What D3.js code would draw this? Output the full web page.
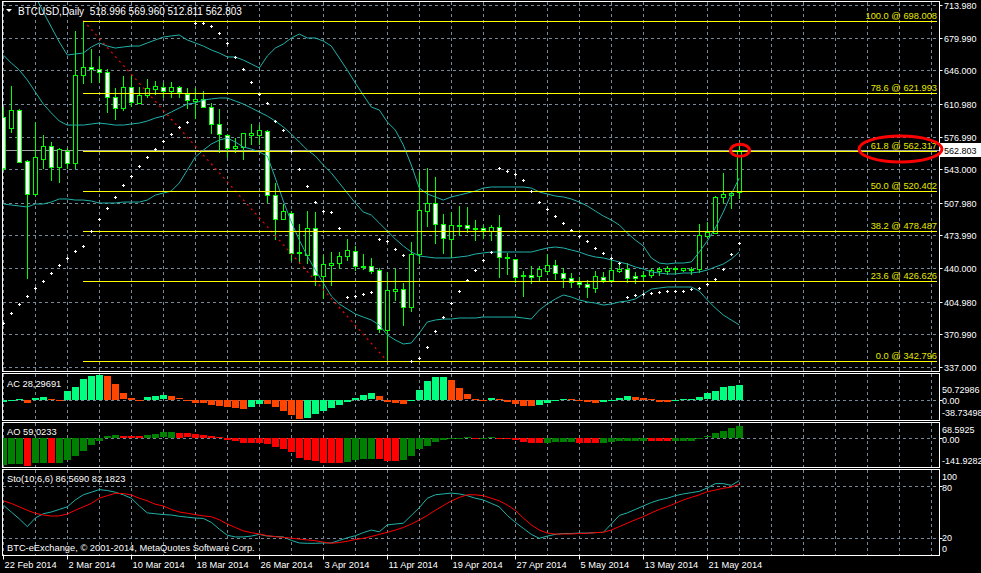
<!DOCTYPE html>
<html><head><meta charset="utf-8">
<script src="https://cdn.jsdelivr.net/npm/d3@7"></script>
<style>html,body{margin:0;padding:0;background:#000;overflow:hidden}svg{display:block}text{font-family:"Liberation Sans",Arial,sans-serif;font-size:9.3px}.ax text,text.ax{font-size:9px}</style>
</head><body>
<svg id="c" width="981" height="573"></svg>
<script>
// ---------------- DATA ----------------
const startDate = new Date(Date.UTC(2014, 1, 22));
const dates = d3.utcDay.range(startDate, new Date(Date.UTC(2014, 4, 26))); // 22 Feb .. 25 May 2014

const open  = [597.7,586.2,604.7,551.2,516.8,553.9,567.1,544.9,562.2,549.7,640.9,649.2,647.1,644.6,617.9,606.5,628.4,612.3,620.3,626.9,629.0,624.8,628.4,621.1,614.4,615.8,607.5,589.8,578.6,564.7,565.8,578.9,578.9,582.5,515.7,491.3,497.0,455.3,453.5,481.3,431.6,443.1,444.8,452.4,458.0,442.3,442.0,437.8,375.3,416.3,417.7,399.6,454.2,499.7,507.4,485.5,469.9,483.7,484.5,480.3,481.3,478.8,482.4,451.4,449.0,432.6,432.6,431.9,437.1,442.7,434.4,429.2,425.6,422.9,418.8,430.9,427.1,437.1,438.6,431.6,431.6,432.6,437.1,437.1,438.6,437.8,437.8,438.6,473.3,476.7,513.7,516.4,518.996];
const high  = [608.1,629.7,605.7,552.5,591.9,578.6,571.0,565.4,564.7,687.1,698.008,668.3,659.6,647.1,627.9,640.1,641.2,628.4,636.7,634.9,632.5,634.2,629.7,627.3,627.3,624.5,611.7,605.4,579.3,575.2,580.7,589.8,589.0,583.8,528.2,506.7,499.7,485.8,499.4,498.0,453.5,456.3,456.9,469.9,463.2,454.5,450.7,439.9,435.4,438.6,424.6,466.7,540.3,543.9,534.5,495.9,498.0,504.6,503.2,490.0,484.8,484.8,495.2,455.9,449.3,436.8,442.0,442.3,454.2,448.3,439.6,434.4,430.9,427.4,436.9,435.4,448.3,445.5,444.8,436.1,436.9,439.6,440.7,442.0,441.3,440.2,441.3,485.8,488.2,515.0,539.3,519.8,569.960];
const low   = [542.1,582.1,550.5,429.2,516.0,543.9,531.7,529.9,543.9,544.5,632.5,634.2,633.6,602.9,595.0,604.7,608.9,611.7,618.6,621.1,618.6,618.6,617.9,607.1,596.0,607.3,581.0,561.2,555.4,561.2,553.6,568.9,569.2,509.1,470.5,490.7,448.3,444.8,444.8,422.2,408.3,422.2,439.6,448.3,437.8,438.6,435.0,373.5,342.796,406.6,380.5,395.4,445.5,483.7,466.3,455.9,451.7,474.3,477.8,469.1,470.9,469.1,430.9,433.4,425.6,410.7,424.0,427.4,433.4,428.1,420.4,420.4,420.4,410.0,414.6,425.6,425.6,436.1,425.0,424.0,427.4,430.2,432.6,433.7,434.4,436.8,433.7,436.1,472.6,476.1,508.0,502.2,512.811];
const close = [543.9,604.7,550.8,516.8,556.0,567.1,544.9,564.0,549.7,640.9,649.2,647.1,644.0,618.6,606.5,628.4,612.7,620.3,627.3,629.7,624.2,628.4,623.1,614.8,615.8,607.5,589.8,579.3,564.7,567.5,580.4,580.4,583.8,516.0,491.3,499.4,455.3,456.3,481.3,432.6,443.8,444.8,452.8,458.7,442.0,441.3,436.8,376.3,417.0,418.0,399.6,454.5,500.4,507.4,485.5,470.9,484.8,484.8,481.3,481.9,479.6,482.4,451.1,450.0,430.9,431.3,430.9,438.6,443.1,434.4,429.2,425.0,423.2,419.8,431.6,427.4,437.8,438.6,429.2,429.2,432.6,437.8,438.6,439.6,439.6,439.6,438.9,474.3,477.2,513.7,516.8,518.5,562.803];

const bbUpper  = [790.3,773.6,757.0,740.3,723.6,706.9,691.2,675.6,662.0,663.1,664.1,670.4,674.6,671.4,669.3,670.4,671.4,671.4,674.6,677.7,680.8,681.9,682.9,677.7,674.6,671.4,667.3,664.1,660.0,660.0,656.8,652.7,648.5,661.0,669.3,673.5,679.8,683.9,679.8,679.8,676.6,671.4,658.9,646.4,632.8,620.3,607.8,604.7,592.2,583.8,568.2,547.3,523.3,517.1,514.0,510.8,514.0,516.0,518.1,520.2,523.3,524.4,524.4,524.4,524.4,524.4,523.3,519.2,517.1,515.0,514.0,511.9,508.7,504.6,499.4,494.2,490.0,484.8,476.4,469.1,462.9,450.4,445.1,444.1,445.1,445.1,446.2,456.6,468.1,481.6,498.3,517.1,533.8];
const bbMiddle = [662.0,653.7,646.4,636.0,623.5,610.9,601.6,593.2,589.0,589.0,589.0,590.1,591.1,590.1,589.0,589.0,590.1,591.1,593.2,596.3,598.4,602.6,606.8,610.9,612.0,615.1,616.2,617.2,617.2,614.1,610.9,606.8,602.6,598.4,593.2,587.0,579.7,571.3,563.0,556.7,547.3,539.0,528.6,518.1,507.7,498.3,495.2,486.9,478.5,470.2,462.9,456.6,452.4,451.4,450.4,450.4,450.4,451.4,452.4,454.5,455.6,456.6,456.6,456.6,456.6,456.6,456.6,458.7,460.8,461.8,460.8,458.7,456.6,453.5,451.4,450.4,448.3,446.2,444.1,441.0,438.9,435.8,434.7,433.7,433.7,434.7,434.7,435.8,437.8,441.0,444.1,449.3,456.6];
const bbLower  = [506.7,505.6,504.6,503.5,506.7,506.7,508.7,511.9,511.9,510.8,510.8,509.8,507.7,507.7,507.7,508.7,508.7,508.7,510.8,516.0,518.1,520.2,528.6,542.1,555.7,562.8,569.2,573.4,575.5,571.3,566.1,564.0,560.9,556.7,533.8,509.8,487.9,469.1,452.4,437.8,424.3,410.7,402.4,397.2,392.0,388.8,385.7,380.5,370.1,364.8,360.7,361.7,372.1,383.6,385.7,386.7,386.7,387.8,387.8,387.8,388.8,388.8,388.8,388.8,388.8,387.8,386.7,396.1,402.4,407.6,411.8,409.7,406.6,404.5,403.4,401.3,402.4,404.5,405.5,407.6,412.8,418.0,419.1,420.1,420.1,420.1,420.1,415.9,406.6,398.2,390.9,385.7,380.5];
const sar      = [382.9,392.7,402.1,410.7,418.8,426.7,434.4,442.7,450.0,457.7,463.2,478.5,490.7,502.8,514.3,526.2,536.2,546.0,555.4,563.7,572.0,579.3,586.6,592.5,695.7,695.1,692.3,684.7,674.2,659.6,647.1,633.6,621.1,611.7,592.9,583.8,562.2,542.8,525.4,508.8,499.0,498.3,481.3,409.4,410.7,412.8,414.6,469.9,467.8,459.4,453.2,342.8,345.8,357.2,374.2,389.1,403.1,415.6,427.1,437.5,448.0,456.3,543.9,541.1,537.6,531.4,520.2,508.8,501.4,493.8,486.5,479.6,473.0,467.8,460.5,455.3,450.0,444.8,410.0,411.5,412.8,413.5,414.6,415.6,415.6,416.3,417.7,418.8,423.2,428.1,438.6,454.2,466.3];

const acValues = [-4.8,0.3,1,-6,4,5.5,2,0.7,16.7,24.3,40,46.5,48.6,46.5,31,12.5,4,0.5,5.5,8.3,8.6,7,2.7,-0.5,-5,-5.5,-9.7,-12.5,-14,-15,-17,-14,-7,-8,-14,-21,-29,-37,-35,-26,-22,-16,-10.4,-4.2,4.2,9.7,12.5,7,-4.2,-5.5,-8.3,-1.4,19.4,36.8,43.7,43.9,38,23,10.4,2,0.5,4.2,1.4,-4.8,-7,-12,-12.5,-9.7,-5.5,-1.4,1.4,1.2,0,-4.2,-5.5,-4.2,0.5,4.2,7,5.5,4.2,1.4,-3.5,-4.2,-0.5,1.4,1.6,5.5,12.5,16.7,25.7,27,28.29691];
const acUp     = [1,1,1,0,1,1,0,0,1,1,1,1,1,0,0,0,0,0,1,1,1,0,0,0,0,0,0,0,0,0,0,1,1,0,0,0,0,0,1,1,1,1,1,1,1,1,1,0,0,0,0,1,1,1,1,1,0,0,0,0,0,1,0,0,0,0,0,1,1,1,1,0,0,0,0,1,1,1,1,0,0,0,0,0,1,1,1,1,1,1,1,1,1];
const aoValues = [-129,-124,-124,-132,-121,-121,-122,-118,-105,-86,-61,-33,-13,11,14,11,10,9.5,14,19,26,26.5,25,21,19,14,11,6,-10,-16,-22,-23,-23.5,-29,-41,-53,-65,-97,-105,-108,-118,-118,-119,-115,-105,-102,-99,-102,-108,-109,-105,-86,-54,-38,-18,-8,-5,-2,2,-3,-2,2,1.5,-6,-10,-19,-22,-22.5,-22,-18,-17.5,-17,-22,-22.5,-23,-22,-21,-16,-13,-12.5,-12,-14,-14.5,-15,-13,-12.5,-12,-3,7,22,35,49,59.0233];
const aoUp     = [1,1,1,0,1,1,0,1,1,1,1,1,1,1,1,0,0,0,1,1,1,1,0,0,0,0,0,0,0,0,0,0,0,0,0,0,0,0,0,0,0,0,0,1,1,1,1,0,0,0,1,1,1,1,1,1,1,1,1,0,1,1,0,0,0,0,0,0,1,1,1,1,0,0,0,1,1,1,1,1,1,0,0,0,1,1,1,1,1,1,1,1,1];
const stoMain   = [58,50,42,33,43,48,50,53,56,64,70,73,76,75,73,70,66,57,49,48,47,46.5,45,44,43,42.5,38,30,23,21,21,22,24,22,21.5,21,17,14,13.6,13.6,14,14,17,20,22.4,26,29,27,35,36,37,46,55,66,70,71,72,71,69,66,64,60,56,46,38,31,24,19.4,22,24,25,25,25.5,25.5,26,26.4,36,46,49,53,57,61,64,66,69,71,72.5,74,78,83,83,81,86.569];
const stoSignal = [63,60,56,52,48.5,46.5,45.3,45.5,47.7,52,56,60,66,69,71.7,71.5,69.8,66,63,59,57,53,50,48.5,47,45.5,44.5,41,36,32,28,26,24.4,22.5,21.3,20.5,19.5,18.5,17.5,16.6,15,13.6,14.5,16,18,19.4,21.5,24,26.4,29,32,36,40.7,46,52,57.5,62.8,67,70,70,69,66,63,58,52,43,35,29,25.5,24.4,24.4,24.5,25,25.2,26,26.4,29,33,37,41,44.5,49,53,56.2,60,64,67,70,73.6,75.5,77.6,79,82.1823];

const fibPct   = ["100.0","78.6","61.8","50.0","38.2","23.6","0.0"];
const fibPrice = [698.008,621.993,562.317,520.402,478.487,426.626,342.796];
const priceTicks = [713.98,679.99,646.0,610.98,576.99,543.0,507.98,473.99,440.0,404.98,370.99,337.0];
const dateTickLabels = ["22 Feb 2014","2 Mar 2014","10 Mar 2014","18 Mar 2014","26 Mar 2014","3 Apr 2014","11 Apr 2014","19 Apr 2014","27 Apr 2014","5 May 2014","13 May 2014","21 May 2014"];
const lastBar = {o:518.996,h:569.960,l:512.811,c:562.803};
const acLast = "28,29691", aoLast = "59,0233", stoLast = ["86,5690","82,1823"];

// ---------------- LAYOUT ----------------
const svg = d3.select('#c');
const FL = 2.5, FR = 939.5;
const P = {
  main:{t:1.5,b:371.5},
  ac:{t:373.5,b:420.5},
  ao:{t:422.5,b:467.5},
  sto:{t:469.5,b:555.5}
};
const C = {grid:'#778899', candle:'#00ff00', bb:'#20b2aa', fib:'#ffff00', acUp:'#00ff7f', acDn:'#ff4500', aoUp:'#008000', aoDn:'#ff0000', text:'#ffffff'};

const x = d3.scaleUtc().domain([startDate, d3.utcDay.offset(startDate,117)]).range([3.3, 3.3+8*117]);
const px = d => Math.round(x(d));
const yMain = d3.scaleLinear().domain([337, 713.98]).range([366.7, 5.2]);
const yAC = d3.scaleLinear().domain([-38.73498, 50.72986]).range([420, 373.5]);
const yAO = d3.scaleLinear().domain([-141.9282, 68.5925]).range([467.5, 423.5]);
const ySto = d3.scaleLinear().domain([0,100]).range([555, 469]);

const defs = svg.append('defs');
Object.entries(P).forEach(([k,p])=>{
  defs.append('clipPath').attr('id','clip-'+k).append('rect')
    .attr('x',FL+0.5).attr('y',p.t+0.5).attr('width',FR-FL-1).attr('height',p.b-p.t-1);
});

// vertical grid
const gridDays = d3.range(0,118,4).map(k=>d3.utcDay.offset(startDate,k));
Object.entries(P).forEach(([k,p])=>{
  const g = svg.append('g').attr('clip-path',`url(#clip-${k})`).attr('shape-rendering','crispEdges');
  g.selectAll('line.v').data(gridDays).join('line')
    .attr('x1',d=>px(d)+0.5).attr('x2',d=>px(d)+0.5).attr('y1',p.t).attr('y2',p.b)
    .attr('stroke',C.grid).attr('stroke-dasharray','3,3');
});

// horizontal grid
function hgrid(vals, y, key){
  svg.append('g').attr('clip-path',`url(#clip-${key})`).attr('shape-rendering','crispEdges')
    .selectAll('line').data(vals).join('line')
    .attr('x1',FL).attr('x2',FR).attr('y1',d=>Math.round(y(d))+0.5).attr('y2',d=>Math.round(y(d))+0.5)
    .attr('stroke',C.grid).attr('stroke-dasharray','3,3');
}
hgrid(priceTicks, yMain, 'main');
hgrid([0], yAC, 'ac');
hgrid([0], yAO, 'ao');
hgrid([20,80], ySto, 'sto');

// ---------- MAIN PANEL ----------
const gm = svg.append('g').attr('clip-path','url(#clip-main)');
const idx = d3.range(dates.length);

// bid line
gm.append('line').attr('x1',FL).attr('x2',FR)
  .attr('y1',Math.round(yMain(lastBar.c))+0.5).attr('y2',Math.round(yMain(lastBar.c))+0.5)
  .attr('stroke','#a0a0a0').attr('shape-rendering','crispEdges');

// candles
const cg = gm.append('g').attr('shape-rendering','crispEdges');
cg.selectAll('line.w').data(idx).join('line')
  .attr('x1',i=>px(dates[i])+0.5).attr('x2',i=>px(dates[i])+0.5)
  .attr('y1',i=>Math.round(yMain(high[i]))).attr('y2',i=>Math.round(yMain(low[i]))+1)
  .attr('stroke',C.candle);
cg.selectAll('rect.b').data(idx).join('rect')
  .attr('x',i=>px(dates[i])-2+0.5)
  .attr('y',i=>Math.round(yMain(Math.max(open[i],close[i])))+0.5)
  .attr('width',4)
  .attr('height',i=>Math.max(0,Math.round(yMain(Math.min(open[i],close[i])))-Math.round(yMain(Math.max(open[i],close[i])))))
  .attr('fill',i=>close[i]>=open[i]?'#000':'#fff')
  .attr('stroke',C.candle);

// bollinger
[bbUpper,bbMiddle,bbLower].forEach(arr=>{
  gm.append('path').datum(idx)
    .attr('d',d3.line().x(i=>x(dates[i])).y(i=>yMain(arr[i])))
    .attr('fill','none').attr('stroke',C.bb).attr('stroke-width',1);
});

// fib trend line (red dotted)
gm.append('line')
  .attr('x1',x(dates[10])).attr('y1',yMain(fibPrice[0]))
  .attr('x2',x(dates[48])).attr('y2',yMain(fibPrice[6]))
  .attr('stroke','#ff0000').attr('stroke-width',1.2).attr('stroke-dasharray','2,4');

// fib levels
gm.append('g').attr('shape-rendering','crispEdges').selectAll('line').data(fibPrice).join('line')
  .attr('x1',x(dates[10])).attr('x2',937)
  .attr('y1',d=>Math.round(yMain(d))+0.5).attr('y2',d=>Math.round(yMain(d))+0.5)
  .attr('stroke',C.fib).attr('stroke-width',1);
gm.append('g').selectAll('text').data(fibPrice).join('text')
  .attr('x',937).attr('y',d=>Math.round(yMain(d))-2)
  .attr('text-anchor','end').attr('fill','#e8e800')
  .text((d,i)=>`${fibPct[i]} @ ${d.toFixed(3)}`);

// SAR
const sg = gm.append('g').attr('fill','#fff').attr('shape-rendering','crispEdges');
idx.forEach(i=>{
  const cx = px(dates[i]), cy = Math.round(yMain(sar[i]));
  sg.append('rect').attr('x',cx-1).attr('y',cy).attr('width',3).attr('height',1);
  sg.append('rect').attr('x',cx).attr('y',cy-1).attr('width',1).attr('height',3);
});

// header
svg.append('path').attr('d','M6,9 L12,9 L9,12 Z').attr('fill','#fff');
svg.append('text').attr('x',18).attr('y',14.5).attr('fill',C.text).attr('xml:space','preserve').style('font-size','10px')
  .text(`BTCUSD,Daily  ${lastBar.o.toFixed(3)} ${lastBar.h.toFixed(3)} ${lastBar.l.toFixed(3)} ${lastBar.c.toFixed(3)}`);

// ---------- AC ----------
const ga = svg.append('g').attr('clip-path','url(#clip-ac)').attr('shape-rendering','crispEdges');
ga.selectAll('rect').data(idx).join('rect')
  .attr('x',i=>px(dates[i])-3).attr('width',7)
  .attr('y',i=>Math.round(Math.min(yAC(acValues[i]),yAC(0))))
  .attr('height',i=>Math.max(1,Math.round(Math.abs(yAC(acValues[i])-yAC(0)))))
  .attr('fill',i=>acUp[i]?C.acUp:C.acDn);
svg.append('text').attr('x',7).attr('y',387).attr('fill',C.text).text(`AC ${acLast}`);

// ---------- AO ----------
const go = svg.append('g').attr('clip-path','url(#clip-ao)').attr('shape-rendering','crispEdges');
go.selectAll('rect').data(idx).join('rect')
  .attr('x',i=>px(dates[i])-3).attr('width',7)
  .attr('y',i=>Math.round(Math.min(yAO(aoValues[i]),yAO(0))))
  .attr('height',i=>Math.max(1,Math.round(Math.abs(yAO(aoValues[i])-yAO(0)))))
  .attr('fill',i=>aoUp[i]?C.aoUp:C.aoDn);
svg.append('text').attr('x',7).attr('y',435).attr('fill',C.text).text(`AO ${aoLast}`);

// ---------- STO ----------
const gs = svg.append('g').attr('clip-path','url(#clip-sto)');
gs.append('path').datum(idx).attr('d',d3.line().x(i=>x(dates[i])).y(i=>ySto(stoMain[i])))
  .attr('fill','none').attr('stroke',C.bb);
gs.append('path').datum(idx).attr('d',d3.line().x(i=>x(dates[i])).y(i=>ySto(stoSignal[i])))
  .attr('fill','none').attr('stroke','#ff0000');
svg.append('text').attr('x',7).attr('y',482).attr('fill',C.text).text(`Sto(10,6,6) ${stoLast[0]} ${stoLast[1]}`);
svg.append('text').attr('x',7).attr('y',551).attr('fill',C.text).text('BTC-eExchange, © 2001-2014, MetaQuotes Software Corp.');

// ---------- FRAMES ----------
Object.values(P).forEach(p=>{
  svg.append('rect').attr('x',FL).attr('y',p.t).attr('width',FR-FL).attr('height',p.b-p.t)
    .attr('fill','none').attr('stroke','#fff').attr('shape-rendering','crispEdges');
});

// ---------- RIGHT AXES ----------
const ra = svg.append('g').attr('class','ax').attr('fill',C.text);
priceTicks.forEach(v=>{
  const yy = Math.round(yMain(v))+0.5;
  svg.append('line').attr('x1',FR).attr('x2',FR+3).attr('y1',yy).attr('y2',yy).attr('stroke','#fff');
  ra.append('text').attr('x',944).attr('y',yy+3.5).text(v.toFixed(3));
});
// bid label (drawn on top)
const by = Math.round(yMain(lastBar.c));
svg.append('rect').attr('x',940).attr('y',by-7).attr('width',41).attr('height',14).attr('fill','#fff');
svg.append('text').attr('class','ax').attr('x',944).attr('y',by+3.5).attr('fill','#000').text(lastBar.c.toFixed(3));

const subLabels = [
  ['50.72986',389],['0.00',Math.round(yAC(0))],['-38.73498',412.7],
  ['68.5925',429.3],['0.00',Math.round(yAO(0))+1],['-141.9282',460],
  ['100',476.7],['80',487.3],['20',537.7],['0',548.3]
];
subLabels.forEach(([t,yy])=>{
  ra.append('text').attr('x',942).attr('y',yy+3.5).text(t);
});
[[yAC,0],[yAO,0],[ySto,80],[ySto,20]].forEach(([s,v])=>{
  const yy=Math.round(s(v))+0.5;
  svg.append('line').attr('x1',FR).attr('x2',FR+3).attr('y1',yy).attr('y2',yy).attr('stroke','#fff');
});

// ---------- TIME AXIS ----------
const tickDates = d3.range(0, dates.length, 8).map(k=>dates[k]);
const fmt = d3.utcFormat('%-d %b %Y');
tickDates.forEach((d,k)=>{
  const xx = px(d)+0.5;
  svg.append('line').attr('x1',xx).attr('x2',xx).attr('y1',555.5).attr('y2',559.5).attr('stroke','#fff');
  svg.append('text').attr('x',xx+1).attr('y',568).attr('fill',C.text).text(dateTickLabels[k] || fmt(d));
});

// ---------- ANNOTATIONS ----------
svg.append('ellipse').attr('cx',900.5).attr('cy',149).attr('rx',41.5).attr('ry',13)
  .attr('fill','none').attr('stroke','#ff0000').attr('stroke-width',3);
svg.append('ellipse').attr('cx',740).attr('cy',yMain(lastBar.c)).attr('rx',9.5).attr('ry',6)
  .attr('fill','none').attr('stroke','#ff0000').attr('stroke-width',3);
</script>
</body></html>
